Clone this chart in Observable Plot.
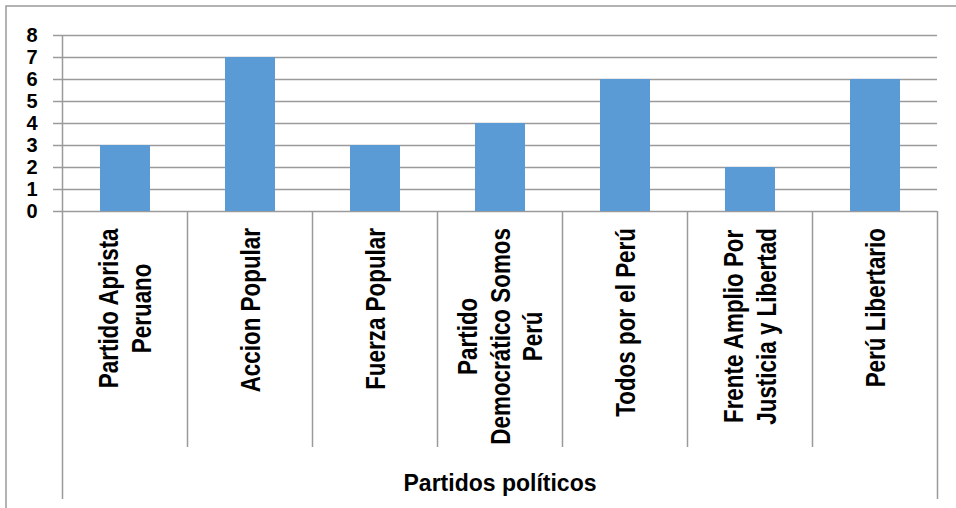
<!DOCTYPE html>
<html>
<head>
<meta charset="utf-8">
<script src="https://cdn.jsdelivr.net/npm/d3@7"></script>
<script src="https://cdn.jsdelivr.net/npm/@observablehq/plot@0.6"></script>
<style>
  html, body { margin: 0; padding: 0; background: #ffffff; }
  #chart svg { display: block; }
</style>
</head>
<body>
<div id="chart"></div>
<script>
const categories = [
  "Partido Aprista\nPeruano",
  "Accion Popular",
  "Fuerza Popular",
  "Partido\nDemocrático Somos\nPerú",
  "Todos por el Perú",
  "Frente Amplio Por\nJusticia y Libertad",
  "Perú Libertario"
];
const values = [3, 7, 3, 4, 6, 2, 6];
const yTicks = [0, 1, 2, 3, 4, 5, 6, 7, 8];
const axisTitle = "Partidos políticos";

const data = categories.map((c, i) => ({party: c, value: values[i]}));

const GRAY = "#9a9a9a";
const LABEL_FONT = "bold 27px 'Liberation Sans', Arial, sans-serif";
const NARROW = 0.83;

const ctx = document.createElement("canvas").getContext("2d");
ctx.font = LABEL_FONT;

function categoryAxis(index, scales, values, dimensions) {
  const x = scales.x;
  const bw = x.bandwidth();
  const step = x(categories[1]) - x(categories[0]);
  const gap = (step - bw) / 2;
  const y0 = dimensions.height - dimensions.marginBottom;
  const g = d3.create("svg:g");
  const edges = categories.map(c => x(c) - gap).concat([x(categories[categories.length - 1]) + bw + gap]);
  edges.forEach((e, i) => {
    const first = i === 0, last = i === edges.length - 1;
    g.append("line")
      .attr("x1", e).attr("x2", e)
      .attr("y1", first ? dimensions.marginTop : y0)
      .attr("y2", y0 + (first || last ? 288 : 236))
      .attr("stroke", GRAY).attr("stroke-width", 1.5);
  });
  categories.forEach(c => {
    const lines = c.split("\n");
    const maxW = d3.max(lines, l => ctx.measureText(l).width) * NARROW;
    const cx = x(c) + bw / 2;
    const cy = y0 + 17 + maxW / 2;
    const t = g.append("text")
      .attr("transform", `translate(${cx},${cy}) rotate(-90) scale(${NARROW},1)`)
      .attr("text-anchor", "middle")
      .style("font", LABEL_FONT)
      .attr("fill", "#000");
    const lh = 33;
    lines.forEach((l, i) => {
      t.append("tspan")
        .attr("x", 0)
        .attr("y", (i - (lines.length - 1) / 2) * lh + 9.5)
        .text(l);
    });
  });
  return g.node();
}

const chart = Plot.plot({
  width: 956,
  height: 508,
  marginLeft: 62,
  marginRight: 19,
  marginTop: 35,
  marginBottom: 297,
  style: {background: "#ffffff", color: "#000"},
  x: {domain: categories, paddingInner: 0.6, paddingOuter: 0.3, axis: null},
  y: {domain: [0, 8], axis: null},
  marks: [
    Plot.frame({stroke: GRAY, strokeWidth: 1.5, insetTop: -29.5, insetLeft: -56.5, insetRight: -40, insetBottom: -320}),
    Plot.gridY(yTicks, {stroke: GRAY, strokeOpacity: 1, strokeWidth: 1.5}),
    Plot.axisY({
      ticks: yTicks,
      tickSize: 9,
      tickPadding: 16,
      stroke: GRAY,
      strokeWidth: 1.5,
      fontSize: 20,
      fontWeight: "bold",
      fontFamily: "'Liberation Sans', Arial, sans-serif",
      label: null
    }),
    Plot.barY(data, {x: "party", y: "value", fill: "#5b9bd5"}),
    categoryAxis,
    Plot.text([axisTitle], {
      frameAnchor: "bottom",
      dy: 272,
      lineAnchor: "middle",
      fontSize: 23,
      fontWeight: "bold",
      fontFamily: "'Liberation Sans', Arial, sans-serif",
      fill: "#000"
    })
  ]
});
document.getElementById("chart").append(chart);
</script>
</body>
</html>
